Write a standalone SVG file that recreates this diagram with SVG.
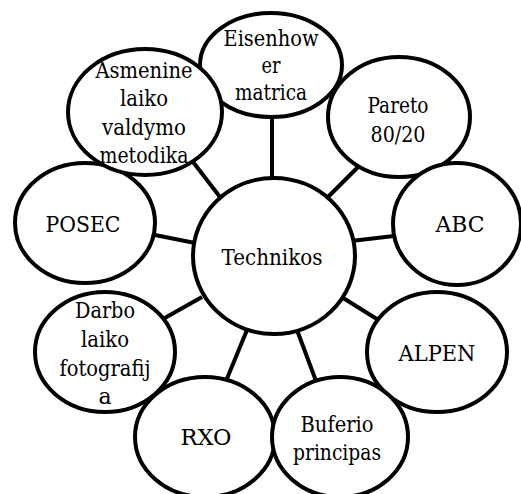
<svg xmlns="http://www.w3.org/2000/svg" width="521" height="494" viewBox="0 0 521 494">
<style>
.n{fill:#fff;stroke:#000;stroke-width:4}
.c line{stroke:#000;stroke-width:4}
</style>
<rect width="521" height="494" fill="#fff"/>
<g class="c" id="connectors">
<line x1="272" y1="116" x2="272" y2="180"/>
<line x1="190" y1="158" x2="220" y2="197"/>
<line x1="359" y1="166" x2="326" y2="199"/>
<line x1="351" y1="241" x2="394" y2="236"/>
<line x1="150" y1="234" x2="195" y2="243"/>
<line x1="163" y1="319" x2="202" y2="297"/>
<line x1="247" y1="330" x2="226" y2="381"/>
<line x1="297" y1="330" x2="316" y2="381"/>
<line x1="340" y1="296" x2="380" y2="321"/>
</g>
<g id="n-eisenhower"><ellipse class="n" cx="271" cy="65" rx="71" ry="52"/></g>
<g id="n-pareto"><ellipse class="n" cx="399" cy="117" rx="71" ry="60"/></g>
<g id="n-abc"><ellipse class="n" cx="457" cy="224" rx="64" ry="61"/></g>
<g id="n-alpen"><ellipse class="n" cx="437" cy="352" rx="70" ry="60"/></g>
<g id="n-rxo"><ellipse class="n" cx="205" cy="437" rx="70" ry="60"/></g>
<g id="n-buferio"><ellipse class="n" cx="340" cy="437" rx="68" ry="60"/></g>
<g id="n-darbo"><ellipse class="n" cx="105" cy="352" rx="70" ry="60"/></g>
<g id="n-posec"><ellipse class="n" cx="85" cy="223" rx="70" ry="60"/></g>
<g id="n-asmenine"><ellipse class="n" cx="145" cy="112" rx="77" ry="63"/></g>
<g id="n-technikos"><ellipse class="n" cx="274" cy="256" rx="81" ry="78"/></g>
<g id="labels" font-family="'DejaVu Serif', serif" font-size="22" fill="#000" text-anchor="middle">
<text x="271" y="46" textLength="95" lengthAdjust="spacingAndGlyphs">Eisenhow</text>
<text x="271" y="73" textLength="19" lengthAdjust="spacingAndGlyphs">er</text>
<text x="271" y="100" textLength="72" lengthAdjust="spacingAndGlyphs">matrica</text>
<text x="144" y="78" textLength="97" lengthAdjust="spacingAndGlyphs">Asmenine</text>
<text x="144" y="106" textLength="48" lengthAdjust="spacingAndGlyphs">laiko</text>
<text x="144" y="135" textLength="84" lengthAdjust="spacingAndGlyphs">valdymo</text>
<text x="144" y="163" textLength="89" lengthAdjust="spacingAndGlyphs">metodika</text>
<text x="398" y="113" textLength="61" lengthAdjust="spacingAndGlyphs">Pareto</text>
<text x="398" y="142" textLength="55" lengthAdjust="spacingAndGlyphs">80/20</text>
<text x="460" y="232" textLength="49" lengthAdjust="spacingAndGlyphs">ABC</text>
<text x="83" y="232" textLength="75" lengthAdjust="spacingAndGlyphs">POSEC</text>
<text x="272" y="265" textLength="101" lengthAdjust="spacingAndGlyphs">Technikos</text>
<text x="105" y="318" textLength="60" lengthAdjust="spacingAndGlyphs">Darbo</text>
<text x="105" y="347" textLength="48" lengthAdjust="spacingAndGlyphs">laiko</text>
<text x="105" y="376" textLength="91" lengthAdjust="spacingAndGlyphs">fotografij</text>
<text x="105" y="404">a</text>
<text x="437" y="361" textLength="77" lengthAdjust="spacingAndGlyphs">ALPEN</text>
<text x="206" y="445" textLength="51" lengthAdjust="spacingAndGlyphs">RXO</text>
<text x="337" y="432" textLength="73" lengthAdjust="spacingAndGlyphs">Buferio</text>
<text x="337" y="460" textLength="88" lengthAdjust="spacingAndGlyphs">principas</text>
</g>
</svg>
